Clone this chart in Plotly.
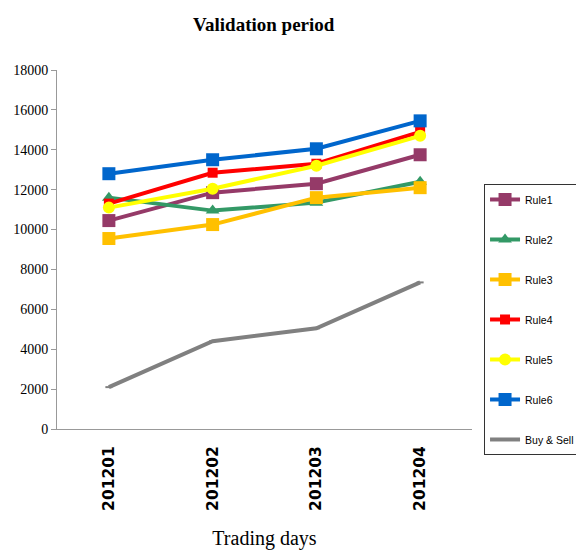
import plotly.graph_objects as go

periods = ["201201", "201202", "201203", "201204"]
rule1 = [10450, 11850, 12300, 13750]
rule2 = [11600, 10950, 11350, 12400]
rule3 = [9550, 10250, 11600, 12100]
rule4 = [11300, 12850, 13300, 14900]
rule5 = [11100, 12050, 13200, 14700]
rule6 = [12800, 13500, 14050, 15450]
buy_sell = [2100, 4400, 5050, 7350]
y_ticks = [0, 2000, 4000, 6000, 8000, 10000, 12000, 14000, 16000, 18000]

series = [
    ("Rule1", rule1, "#953A68", "square", 13),
    ("Rule2", rule2, "#339966", "triangle-up", 12),
    ("Rule3", rule3, "#FFC000", "square", 13),
    ("Rule4", rule4, "#FF0000", "square", 10),
    ("Rule5", rule5, "#FFFF00", "circle", 12),
    ("Rule6", rule6, "#0066CC", "square", 13),
]

fig = go.Figure()
for name, vals, color, sym, size in series:
    fig.add_trace(go.Scatter(
        x=periods, y=vals, name=name, mode="lines+markers",
        line=dict(color=color, width=4),
        marker=dict(symbol=sym, size=size, color=color),
        legendgroup=name,
    ))
fig.add_trace(go.Scatter(
    x=periods, y=buy_sell, name="Buy & Sell", mode="lines+markers",
    line=dict(color="#808080", width=4),
    marker=dict(symbol="line-ew", size=5, color="#808080", line=dict(color="#808080", width=2)),
    legendgroup="bs",
))

fig.update_layout(
    width=576, height=542,
    margin=dict(l=49, r=112, t=62, b=121, autoexpand=False),
    paper_bgcolor="white", plot_bgcolor="white",
    title=dict(text="<b>Validation period</b>", x=0.444, xanchor="center", y=1 - 16 / 542, yanchor="middle",
               font=dict(family="Liberation Serif", size=19, color="black")),
    showlegend=True,
    legend=dict(x=1.029, y=0.6825, xanchor="left", yanchor="top",
                bordercolor="#333333", borderwidth=1, bgcolor="white",
                font=dict(family="Liberation Sans", size=10.5, color="black"),
                traceorder="grouped", tracegroupgap=21),
    xaxis=dict(
        type="category", range=[-0.5, 3.5], showgrid=False, automargin=False,
        showline=True, linecolor="#999999", linewidth=1, ticks="",
        tickangle=-90, ticklabelstandoff=10,
        tickfont=dict(family="DejaVu Sans", size=15.5, color="black", weight="bold"),
        title=dict(text="Trading days", font=dict(family="Liberation Serif", size=20, color="black"), standoff=26),
    ),
    yaxis=dict(
        range=[0, 18000], tickvals=y_ticks, ticktext=[str(v) for v in y_ticks],
        showgrid=False, zeroline=False, automargin=False,
        showline=True, linecolor="#999999", linewidth=1,
        ticks="outside", ticklen=5, tickcolor="#999999",
        tickfont=dict(family="Liberation Serif", size=14, color="black"),
    ),
)

fig.write_html("out.html")
